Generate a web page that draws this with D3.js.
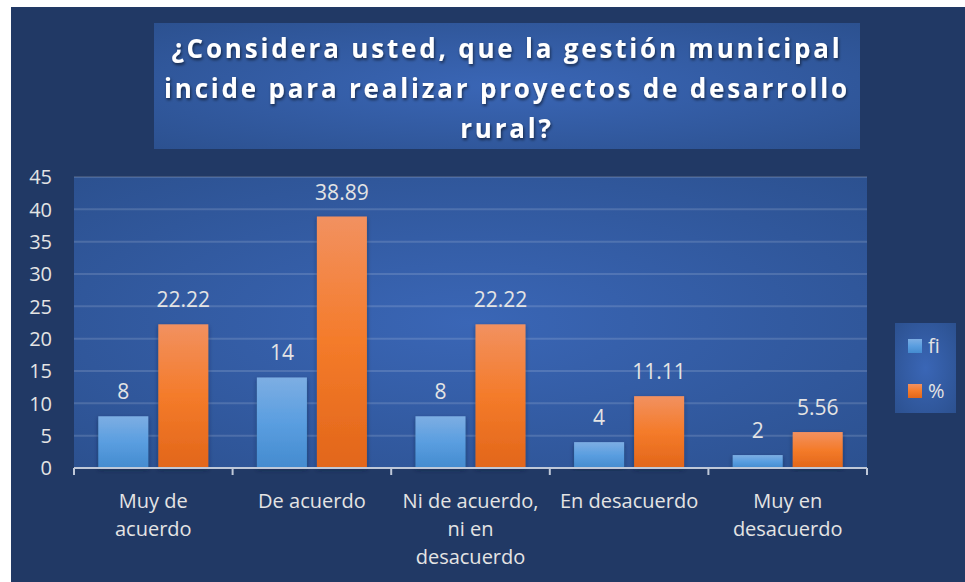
<!DOCTYPE html>
<html>
<head>
<meta charset="utf-8">
<script src="https://cdn.jsdelivr.net/npm/d3@7"></script>
<style>
  html, body { margin: 0; padding: 0; background: #fff; }
  svg { display: block; font-family: "Open Sans", sans-serif; }
</style>
</head>
<body>
<div id="chart"></div>
<script>
// data
var categories = ["Muy de acuerdo", "De acuerdo", "Ni de acuerdo, ni en desacuerdo", "En desacuerdo", "Muy en desacuerdo"];
var categoryLines = [["Muy de", "acuerdo"], ["De acuerdo"], ["Ni de acuerdo,", "ni en", "desacuerdo"], ["En desacuerdo"], ["Muy en", "desacuerdo"]];
var fiValues = [8, 14, 8, 4, 2];
var pctValues = [22.22, 38.89, 22.22, 11.11, 5.56];
var pctLabels = ["22.22", "38.89", "22.22", "11.11", "5.56"];
var seriesNames = ["fi", "%"];
var yTicks = [0, 5, 10, 15, 20, 25, 30, 35, 40, 45];
var titleLines = ["¿Considera usted, que la gestión municipal", "incide para realizar proyectos de desarrollo", "rural?"];

var width = 965, height = 582;
var plot = {left: 74, right: 867, top: 177, bottom: 468};

var svg = d3.select("#chart").append("svg")
  .attr("width", width)
  .attr("height", height);

var defs = svg.append("defs");

// panel background gradient (lighter in the middle)
var rg = defs.append("radialGradient").attr("id", "panelGrad")
  .attr("cx", "50%").attr("cy", "50%").attr("r", "70%");
rg.append("stop").attr("offset", "0%").attr("stop-color", "#3a66b6");
rg.append("stop").attr("offset", "100%").attr("stop-color", "#2c5190");

var blueGrad = defs.append("linearGradient").attr("id", "blueGrad")
  .attr("x1", 0).attr("y1", 0).attr("x2", 0).attr("y2", 1);
blueGrad.append("stop").attr("offset", "0%").attr("stop-color", "#7daee3");
blueGrad.append("stop").attr("offset", "50%").attr("stop-color", "#5a9ee0");
blueGrad.append("stop").attr("offset", "100%").attr("stop-color", "#448bcf");

var orangeGrad = defs.append("linearGradient").attr("id", "orangeGrad")
  .attr("x1", 0).attr("y1", 0).attr("x2", 0).attr("y2", 1);
orangeGrad.append("stop").attr("offset", "0%").attr("stop-color", "#f29160");
orangeGrad.append("stop").attr("offset", "50%").attr("stop-color", "#f47b2a");
orangeGrad.append("stop").attr("offset", "100%").attr("stop-color", "#e2661a");

var shadow = defs.append("filter").attr("id", "shadow")
  .attr("x", "-20%").attr("y", "-20%").attr("width", "140%").attr("height", "140%");
shadow.append("feDropShadow").attr("dx", 1).attr("dy", 2).attr("stdDeviation", 1.5)
  .attr("flood-color", "#000").attr("flood-opacity", 0.55);

var barShadow = defs.append("filter").attr("id", "barShadow")
  .attr("x", "-20%").attr("y", "-10%").attr("width", "140%").attr("height", "120%");
barShadow.append("feDropShadow").attr("dx", 0).attr("dy", 2).attr("stdDeviation", 2)
  .attr("flood-color", "#0a1a3a").attr("flood-opacity", 0.5);

// dark outer panel
svg.append("rect")
  .attr("x", 11).attr("y", 7)
  .attr("width", width - 11).attr("height", height - 7)
  .attr("fill", "#213965");

// title box
svg.append("rect")
  .attr("x", 154).attr("y", 23).attr("width", 706).attr("height", 126)
  .attr("fill", "url(#panelGrad)");

svg.append("g").selectAll("text")
  .data(titleLines)
  .join("text")
  .attr("x", 507)
  .attr("y", function(d, i) { return 58 + i * 40; })
  .attr("text-anchor", "middle")
  .attr("fill", "#ffffff")
  .attr("font-size", 26)
  .attr("font-weight", "bold")
  .attr("letter-spacing", 2.8)
  .attr("filter", "url(#shadow)")
  .text(function(d) { return d; });

// plot area
svg.append("rect")
  .attr("x", plot.left).attr("y", plot.top)
  .attr("width", plot.right - plot.left).attr("height", plot.bottom - plot.top)
  .attr("fill", "url(#panelGrad)");

var x0 = d3.scaleBand()
  .domain(categories)
  .range([plot.left, plot.right])
  .paddingInner(0).paddingOuter(0);

var x1 = d3.scaleBand()
  .domain(seriesNames)
  .range([0, x0.bandwidth()])
  .paddingInner(0.167)
  .paddingOuter(0.405);

var y = d3.scaleLinear()
  .domain([0, 45])
  .range([plot.bottom, plot.top]);

// gridlines
svg.append("g").selectAll("line")
  .data(yTicks.filter(function(d) { return d > 0; }))
  .join("line")
  .attr("x1", plot.left).attr("x2", plot.right)
  .attr("y1", function(d) { return y(d); })
  .attr("y2", function(d) { return y(d); })
  .attr("stroke", "#ffffff")
  .attr("stroke-opacity", 0.14)
  .attr("stroke-width", 2);

// y axis labels
svg.append("g").selectAll("text")
  .data(yTicks)
  .join("text")
  .attr("x", 52)
  .attr("y", function(d) { return y(d); })
  .attr("dy", "0.36em")
  .attr("text-anchor", "end")
  .attr("fill", "#e4e4e4")
  .attr("font-size", 20)
  .text(function(d) { return d; });

// bars
var groups = svg.append("g").selectAll("g")
  .data(categories)
  .join("g")
  .attr("transform", function(d) { return "translate(" + x0(d) + ",0)"; });

var rows = categories.map(function(c, i) {
  return [
    {key: "fi", value: fiValues[i], label: String(fiValues[i]), fill: "url(#blueGrad)"},
    {key: "%", value: pctValues[i], label: pctLabels[i], fill: "url(#orangeGrad)"}
  ];
});

groups.selectAll("rect")
  .data(function(d, i) { return rows[i]; })
  .join("rect")
  .attr("x", function(d) { return x1(d.key); })
  .attr("y", function(d) { return y(d.value); })
  .attr("width", x1.bandwidth())
  .attr("height", function(d) { return y(0) - y(d.value); })
  .attr("fill", function(d) { return d.fill; })
  .attr("filter", "url(#barShadow)");

groups.selectAll("text")
  .data(function(d, i) { return rows[i]; })
  .join("text")
  .attr("x", function(d) { return x1(d.key) + x1.bandwidth() / 2; })
  .attr("y", function(d) { return y(d.value) - 17; })
  .attr("text-anchor", "middle")
  .attr("fill", "#e4e4e4")
  .attr("font-size", 21)
  .text(function(d) { return d.label; });

// x axis
var xAxis = svg.append("g")
  .attr("transform", "translate(0," + plot.bottom + ")");
xAxis.append("line")
  .attr("x1", plot.left).attr("x2", plot.right)
  .attr("stroke", "#bfc8d8").attr("stroke-width", 2);
xAxis.selectAll("line.tick")
  .data(d3.range(categories.length + 1))
  .join("line")
  .attr("class", "tick")
  .attr("x1", function(i) { return plot.left + i * x0.bandwidth(); })
  .attr("x2", function(i) { return plot.left + i * x0.bandwidth(); })
  .attr("y1", 0).attr("y2", 7)
  .attr("stroke", "#bfc8d8").attr("stroke-width", 2);

svg.append("g").selectAll("text")
  .data(categories)
  .join("text")
  .attr("x", function(d) { return x0(d) + x0.bandwidth() / 2; })
  .attr("y", 508)
  .attr("text-anchor", "middle")
  .attr("fill", "#e4e4e4")
  .attr("font-size", 20)
  .each(function(d, i) {
    d3.select(this).selectAll("tspan")
      .data(categoryLines[i])
      .join("tspan")
      .attr("x", x0(d) + x0.bandwidth() / 2)
      .attr("dy", function(t, j) { return j === 0 ? 0 : 28; })
      .text(function(t) { return t; });
  });

// legend
svg.append("rect")
  .attr("x", 895).attr("y", 323).attr("width", 61).attr("height", 90)
  .attr("fill", "url(#panelGrad)");

var legend = svg.append("g").selectAll("g")
  .data(seriesNames)
  .join("g")
  .attr("transform", function(d, i) { return "translate(908," + (339 + i * 45) + ")"; });

legend.append("rect")
  .attr("width", 14).attr("height", 14)
  .attr("fill", function(d, i) { return i === 0 ? "url(#blueGrad)" : "url(#orangeGrad)"; });

legend.append("text")
  .attr("x", 20).attr("y", 7)
  .attr("dy", "0.36em")
  .attr("fill", "#e4e4e4")
  .attr("font-size", 20)
  .text(function(d) { return d; });
</script>
</body>
</html>
